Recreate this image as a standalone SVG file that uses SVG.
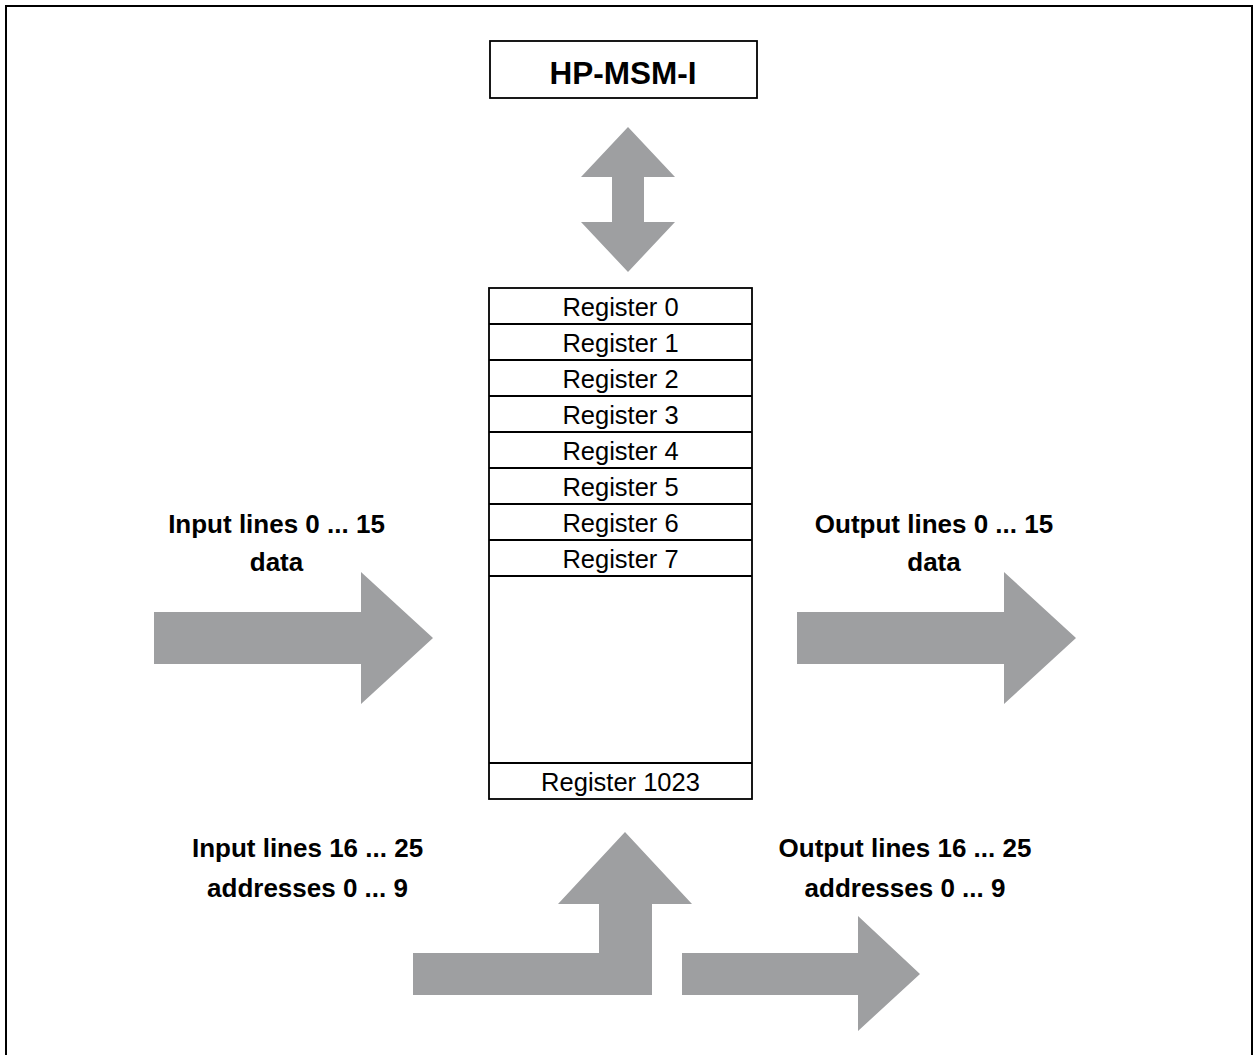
<svg xmlns="http://www.w3.org/2000/svg" width="1253" height="1055" viewBox="0 0 1253 1055">
<style>
.lbl{font-family:"Liberation Sans",Arial,Helvetica,sans-serif;font-weight:bold;font-size:26px;fill:#000;text-anchor:middle}
.reg{font-family:"Liberation Sans",Arial,Helvetica,sans-serif;font-size:25.5px;fill:#000;text-anchor:middle}
.title{font-family:"Liberation Sans",Arial,Helvetica,sans-serif;font-weight:bold;font-size:31.5px;fill:#000;text-anchor:middle}
.box{fill:#fff;stroke:#000;stroke-width:1.8}
.sep{stroke:#000;stroke-width:2}
.arrow{fill:#9e9fa1;stroke:none}
</style>
<rect x="0" y="0" width="1253" height="1055" fill="#fff"/>
<path d="M6,1055 V6 H1252 V1055" fill="none" stroke="#000" stroke-width="2"/>

<g id="hp-msm-i">
<rect class="box" x="490" y="41" width="267" height="57"/>
<text class="title" x="623" y="83.5">HP-MSM-I</text>
</g>

<g id="registers">
<rect class="box" x="489" y="288" width="263" height="511"/>
<line class="sep" x1="489" y1="324" x2="752" y2="324"/>
<line class="sep" x1="489" y1="360" x2="752" y2="360"/>
<line class="sep" x1="489" y1="396" x2="752" y2="396"/>
<line class="sep" x1="489" y1="432" x2="752" y2="432"/>
<line class="sep" x1="489" y1="468" x2="752" y2="468"/>
<line class="sep" x1="489" y1="504" x2="752" y2="504"/>
<line class="sep" x1="489" y1="540" x2="752" y2="540"/>
<line class="sep" x1="489" y1="576" x2="752" y2="576"/>
<line class="sep" x1="489" y1="763" x2="752" y2="763"/>
<text class="reg" x="620.5" y="316">Register 0</text>
<text class="reg" x="620.5" y="352">Register 1</text>
<text class="reg" x="620.5" y="388">Register 2</text>
<text class="reg" x="620.5" y="424">Register 3</text>
<text class="reg" x="620.5" y="460">Register 4</text>
<text class="reg" x="620.5" y="496">Register 5</text>
<text class="reg" x="620.5" y="532">Register 6</text>
<text class="reg" x="620.5" y="568">Register 7</text>
<text class="reg" x="620.5" y="791">Register 1023</text>
</g>

<g id="labels">
<text class="lbl" x="276.5" y="532.5">Input lines 0 ... 15</text>
<text class="lbl" x="276.5" y="571">data</text>
<text class="lbl" x="934" y="532.5">Output lines 0 ... 15</text>
<text class="lbl" x="934" y="571">data</text>
<text class="lbl" x="307.5" y="857">Input lines 16 ... 25</text>
<text class="lbl" x="307.5" y="897">addresses 0 ... 9</text>
<text class="lbl" x="905" y="857">Output lines 16 ... 25</text>
<text class="lbl" x="905" y="897">addresses 0 ... 9</text>
</g>

<g id="connectors">
<polygon class="arrow" points="628,127 675,177 644,177 644,222 675,222 628,272 581,222 612,222 612,177 581,177"/>
<polygon class="arrow" points="154,612 361,612 361,572 433,638 361,704 361,664 154,664"/>
<polygon class="arrow" points="797,612 1004,612 1004,572 1076,638 1004,704 1004,664 797,664"/>
<polygon class="arrow" points="413,953 599,953 599,904 558,904 625,832 692,904 652,904 652,995 413,995"/>
<polygon class="arrow" points="682,953 858,953 858,916 920,974 858,1031 858,995 682,995"/>
</g>
</svg>
